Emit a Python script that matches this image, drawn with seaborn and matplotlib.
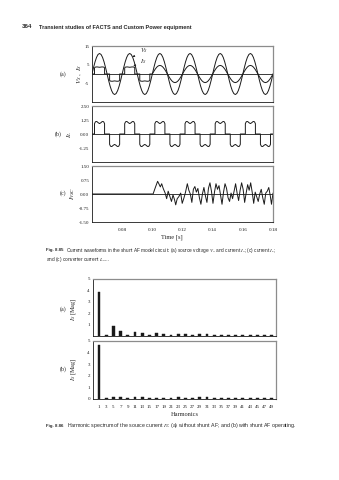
import matplotlib
matplotlib.use("Agg")
import matplotlib.pyplot as plt
import seaborn as sns
import numpy as np

# ---------------- data ----------------
period = 0.02
t_start = 0.06
t_switch = 0.10
t_end = 0.18
time_ticks = [0.08, 0.10, 0.12, 0.14, 0.16, 0.18]
time_ticklabels = ["0.08", "0.10", "0.12", "0.14", "0.16", "0.18"]

# source voltage, one cycle read in 18 degree steps
vs_deg = [0, 18, 36, 54, 72, 90, 108, 126, 144, 162, 180, 198, 216, 234, 252, 270, 288, 306, 324, 342]
vs_val = [0, 3.4, 6.47, 8.9, 10.46, 11.0, 10.46, 8.9, 6.47, 3.4, 0, -3.4, -6.47, -8.9, -10.46, -11.0, -10.46, -8.9, -6.47, -3.4]

# source current before the filter starts (quasi square)
is_pre_deg = [0, 30, 30, 40, 60, 90, 120, 140, 150, 150, 210, 210, 220, 240, 270, 300, 320, 330, 330, 360]
is_pre_val = [0, 0, 3.3, 3.7, 3.8, 3.6, 3.8, 3.7, 3.3, 0, 0, -3.4, -3.8, -3.9, -3.7, -3.9, -3.8, -3.4, 0, 0]

# source current after the filter starts (sinusoidal)
is_post_deg = vs_deg
is_post_val = [0, 1.42, 2.70, 3.72, 4.37, 4.6, 4.37, 3.72, 2.70, 1.42, 0, -1.42, -2.70, -3.72, -4.37, -4.6, -4.37, -3.72, -2.70, -1.42]

# load current, one cycle
il_deg = [0, 30, 30, 40, 50, 60, 75, 90, 105, 120, 130, 140, 150, 150,
          210, 210, 220, 230, 240, 255, 270, 285, 300, 310, 320, 330, 330, 360]
il_val = [0, 0, 0.92, 1.08, 1.12, 1.10, 1.0, 0.93, 1.0, 1.10, 1.12, 1.08, 0.92, 0,
          0, -0.92, -1.08, -1.12, -1.10, -1.0, -0.93, -1.0, -1.10, -1.12, -1.08, -0.92, 0, 0]

# converter current
ivsc_t = [0.0600, 0.1005, 0.1020, 0.1035, 0.1045, 0.1053, 0.1062, 0.1072, 0.1085, 0.1095,
          0.1105, 0.1115, 0.1127, 0.1137, 0.1147, 0.1155, 0.1165, 0.1175, 0.1188, 0.1198,
          0.1210, 0.1220, 0.1232, 0.1242, 0.1252, 0.1262, 0.1272, 0.1282, 0.1292, 0.1302,
          0.1312, 0.1322, 0.1332, 0.1342, 0.1352, 0.1362, 0.1372, 0.1382, 0.1392, 0.1402,
          0.1412, 0.1422, 0.1432, 0.1442, 0.1452, 0.1462, 0.1472, 0.1482, 0.1492, 0.1502,
          0.1512, 0.1522, 0.1532, 0.1542, 0.1552, 0.1562, 0.1572, 0.1582, 0.1592, 0.1602,
          0.1612, 0.1622, 0.1632, 0.1642, 0.1652, 0.1662, 0.1672, 0.1682, 0.1692, 0.1702,
          0.1712, 0.1722, 0.1732, 0.1742, 0.1752, 0.1762, 0.1772, 0.1782, 0.1790, 0.1800]
ivsc_val = [0.00, 0.00, 0.35, 0.68, 0.52, 0.38, 0.55, 0.30, 0.05, -0.25,
            0.15, -0.10, -0.40, -0.05, -0.30, -0.58, -0.25, -0.15, 0.05, -0.50,
            -0.20, 0.10, 0.55, 0.20, 0.00, -0.45, 0.25, 0.40, 0.10, 0.30,
            -0.20, -0.55, 0.00, 0.35, -0.10, -0.45, 0.30, 0.60, 0.15, -0.50,
            0.10, 0.55, 0.25, 0.45, -0.05, -0.55, 0.10, 0.55, 0.30, -0.20,
            -0.40, 0.05, -0.25, 0.15, 0.55, 0.05, -0.35, 0.20, 0.60, 0.25,
            -0.45, 0.05, 0.50, 0.20, 0.60, 0.10, -0.50, 0.10, -0.15, -0.40,
            0.00, 0.25, -0.20, -0.55, 0.05, 0.15, 0.35, -0.10, -0.55, 0.05]

harmonics = [1, 3, 5, 7, 9, 11, 13, 15, 17, 19, 21, 23, 25, 27, 29, 31, 33, 35, 37, 39, 41, 43, 45, 47, 49]
mag_without_af = [3.85, 0.05, 0.88, 0.47, 0.05, 0.37, 0.30, 0.05, 0.24, 0.21, 0.05, 0.17, 0.17,
                  0.05, 0.14, 0.14, 0.05, 0.13, 0.13, 0.05, 0.12, 0.12, 0.05, 0.11, 0.11]
mag_with_af = [4.65, 0.05, 0.15, 0.14, 0.05, 0.13, 0.13, 0.05, 0.12, 0.12, 0.05, 0.13, 0.11,
               0.05, 0.13, 0.13, 0.05, 0.10, 0.10, 0.05, 0.09, 0.09, 0.05, 0.09, 0.09]


def build(deg, val, t0, ncycles):
    ts, vs = [], []
    for k in range(ncycles):
        for d, v in zip(deg, val):
            ts.append(t0 + k * period + d / 360.0 * period)
            vs.append(v)
    return ts, vs


vs_t, vs_v = build(vs_deg, vs_val, t_start, 6)
vs_t.append(t_end); vs_v.append(0.0)
a_t, a_v = build(is_pre_deg, is_pre_val, t_start, 2)
b_t, b_v = build(is_post_deg, is_post_val, t_switch, 4)
is_t = a_t + b_t + [t_end]
is_v = a_v + b_v + [0.0]
il_t, il_v = build(il_deg, il_val, t_start, 6)

# ---------------- style ----------------
sns.set_theme(style="white")
plt.rcParams["font.family"] = ["Liberation Serif", "DejaVu Serif"]
plt.rcParams["mathtext.fontset"] = "stix"
plt.rcParams["axes.linewidth"] = 0.6

W, H = 339, 480
fig = plt.figure(figsize=(W / 100, H / 100), dpi=100)
fig.patch.set_facecolor("white")


def ax_px(x0, y0, x1, y1):
    return fig.add_axes([x0 / W, 1 - y1 / H, (x1 - x0) / W, (y1 - y0) / H])


TL = 3.6
lc = "k"
lw = 0.7


def style_axes(ax):
    for s in ["left", "bottom"]:
        ax.spines[s].set_color("k")
        ax.spines[s].set_linewidth(0.6)
    for s in ["top", "right"]:
        ax.spines[s].set_color("0.55")
        ax.spines[s].set_linewidth(0.9)
    ax.tick_params(direction="in", length=2, width=0.5, labelsize=TL, pad=2,
                   colors="k")
    ax.set_facecolor("white")


# panel (a)
ax1 = ax_px(92, 46, 273, 102)
sns.lineplot(x=vs_t, y=vs_v, ax=ax1, color=lc, lw=lw, estimator=None, sort=False)
sns.lineplot(x=is_t, y=is_v, ax=ax1, color=lc, lw=lw, estimator=None, sort=False)
ax1.axhline(0, color="k", lw=0.6)
ax1.set_xlim(t_start, t_end)
ax1.set_ylim(-15, 15)
ax1.set_yticks([15, 5, -5])
ax1.set_yticklabels(["15", "5", "-5"])
ax1.set_xticks(time_ticks)
ax1.set_xticklabels([])
ax1.annotate(r"$V_S$", xy=(0.0869, 9.1), xytext=(0.0915, 12.3), fontsize=4.5,
             va="center", ha="left",
             arrowprops=dict(arrowstyle="-|>", lw=0.4, color="k", mutation_scale=3))
ax1.annotate(r"$I_S$", xy=(0.0875, 4.2), xytext=(0.0915, 6.7), fontsize=4.5,
             va="center", ha="left",
             arrowprops=dict(arrowstyle="-|>", lw=0.4, color="k", mutation_scale=3))
style_axes(ax1)

# panel (b)
ax2 = ax_px(92, 106, 273, 162)
sns.lineplot(x=il_t, y=il_v, ax=ax2, color=lc, lw=lw, estimator=None, sort=False)
ax2.axhline(0, color="k", lw=0.6)
ax2.set_xlim(t_start, t_end)
ax2.set_ylim(-2.5, 2.5)
ax2.set_yticks([2.5, 1.25, 0, -1.25])
ax2.set_yticklabels(["2.50", "1.25", "0.00", "-1.25"])
ax2.set_xticks(time_ticks)
ax2.set_xticklabels([])
style_axes(ax2)

# panel (c)
ax3 = ax_px(92, 166, 273, 222)
ax3.axhline(0, color="k", lw=0.6)
sns.lineplot(x=ivsc_t, y=ivsc_val, ax=ax3, color=lc, lw=lw, estimator=None, sort=False)
ax3.set_xlim(t_start, t_end)
ax3.set_ylim(-1.5, 1.5)
ax3.set_yticks([1.5, 0.75, 0, -0.75, -1.5])
ax3.set_yticklabels(["1.50", "0.75", "0.00", "-0.75", "-1.50"])
ax3.set_xticks(time_ticks)
ax3.set_xticklabels(time_ticklabels)
style_axes(ax3)
ax3.tick_params(axis="x", pad=4)

for ax in (ax1, ax2, ax3):
    ax.set_xlabel("")
    ax.set_ylabel("")

fig.text(172 / W, 1 - 237 / H, "Time [s]", fontsize=4.6, ha="center", va="center")

# y labels of waveform panels
fig.text(63 / W, 1 - 74 / H, "(a)", fontsize=4.3, ha="center", va="center")
fig.text(80 / W, 1 - 74 / H, r"$V_S\ ,\ I_S$", fontsize=5, ha="center", va="center", rotation=90)
fig.text(58 / W, 1 - 134 / H, "(b)", fontsize=4.3, ha="center", va="center")
fig.text(70 / W, 1 - 134 / H, r"$I_L$", fontsize=5, ha="center", va="center", rotation=90)
fig.text(63 / W, 1 - 193 / H, "(c)", fontsize=4.3, ha="center", va="center")
fig.text(73 / W, 1 - 193 / H, r"$I_{VSC}$", fontsize=5, ha="center", va="center", rotation=90)

# harmonic spectra
hlabels = [str(h) for h in harmonics]
ax4 = ax_px(92.7, 279, 276, 336)
sns.barplot(x=hlabels, y=mag_without_af, order=hlabels, ax=ax4, color="k",
            saturation=1, width=0.4, errorbar=None, edgecolor="k", linewidth=0.3)
ax4.set_ylim(0, 5)
ax4.set_xlim(-0.88, 24.6)
ax4.set_yticks([1, 2, 3, 4, 5])
ax4.set_yticklabels(["1", "2", "3", "4", "5"])
ax4.set_xticks([])
style_axes(ax4)

ax5 = ax_px(92.7, 341, 276, 399)
sns.barplot(x=hlabels, y=mag_with_af, order=hlabels, ax=ax5, color="k",
            saturation=1, width=0.4, errorbar=None, edgecolor="k", linewidth=0.3)
ax5.set_ylim(0, 5)
ax5.set_xlim(-0.88, 24.6)
ax5.set_yticks([0, 1, 2, 3, 4, 5])
ax5.set_yticklabels(["0", "1", "2", "3", "4", "5"])
style_axes(ax5)
ax5.tick_params(axis="x", length=0, pad=4)

for ax in (ax4, ax5):
    ax.set_xlabel("")
    ax.set_ylabel("")

fig.text(185 / W, 1 - 414 / H, "Harmonics", fontsize=4.6, ha="center", va="center")
fig.text(63 / W, 1 - 309 / H, "(a)", fontsize=4.3, ha="center", va="center")
fig.text(74 / W, 1 - 309 / H, r"$I_S$ [Mag]", fontsize=4.5, ha="center", va="center", rotation=90)
fig.text(63 / W, 1 - 369 / H, "(b)", fontsize=4.3, ha="center", va="center")
fig.text(74 / W, 1 - 369 / H, r"$I_S$ [Mag]", fontsize=4.5, ha="center", va="center", rotation=90)

# header and captions
sans = ["Liberation Sans", "DejaVu Sans"]
fig.text(22 / W, 1 - 27 / H, "364", fontsize=4.4, family=sans, weight="bold", va="center")
fig.text(39 / W, 1 - 27 / H, "Transient studies of FACTS and Custom Power equipment",
         fontsize=4.0, family=sans, weight="bold", va="center")

fig.text(46 / W, 1 - 250 / H, "Fig. 8.85", fontsize=3.2, family=sans, weight="bold", va="center")
fig.text(65.5 / W, 1 - 250 / H,
         r"Current waveforms in the shunt AF model circuit: (a) source voltage $V_S$ and current $I_S$; (c) current $I_L$;",
         fontsize=3.45, family=sans, va="center")
fig.text(46 / W, 1 - 259 / H, r"and (c) converter current $I_{VSC}$.",
         fontsize=3.45, family=sans, va="center")
fig.text(46 / W, 1 - 425.5 / H, "Fig. 8.86", fontsize=3.2, family=sans, weight="bold", va="center")
fig.text(67 / W, 1 - 425.5 / H,
         r"Harmonic spectrum of the source current $I_S$: (a) without shunt AF; and (b) with shunt AF operating.",
         fontsize=3.75, family=sans, va="center")

fig.savefig("out.png", dpi=100, facecolor="white")
